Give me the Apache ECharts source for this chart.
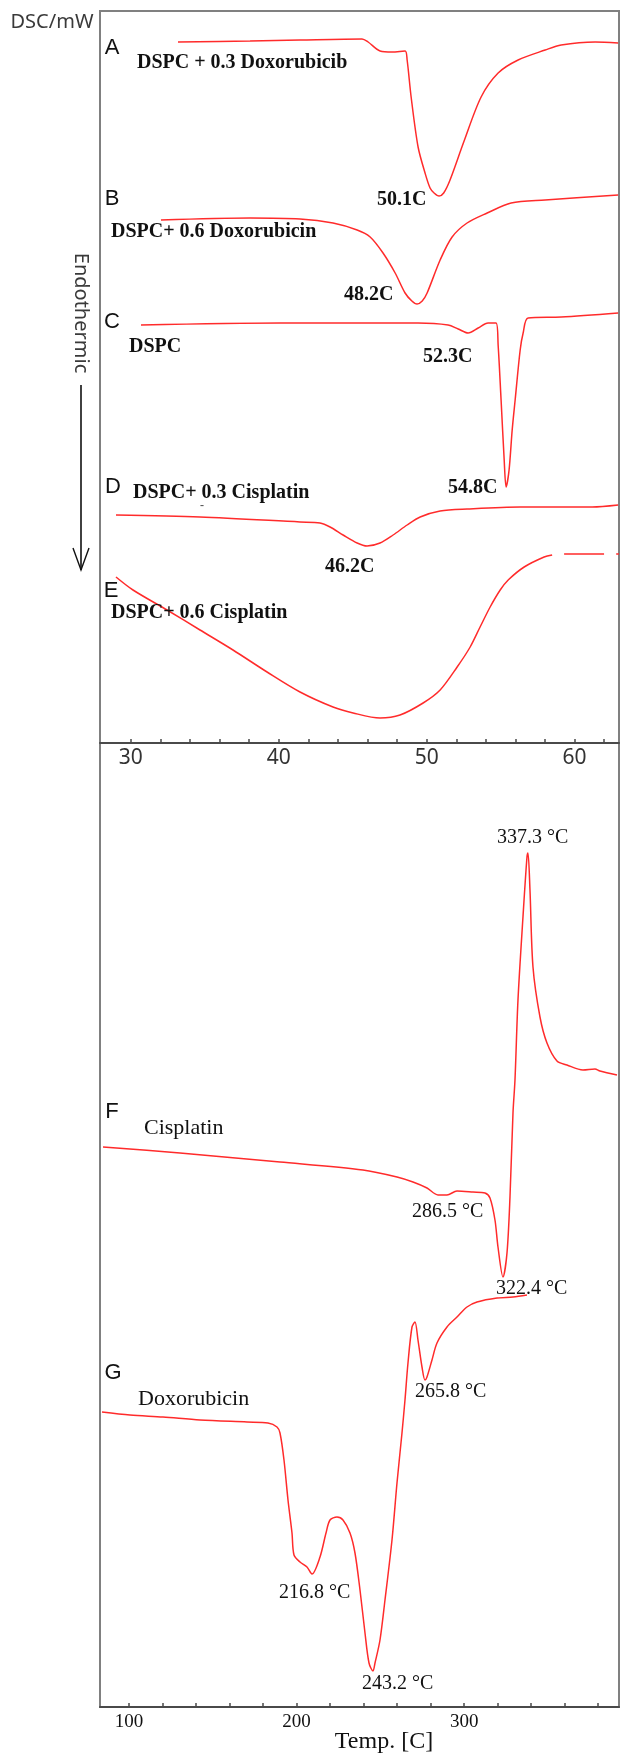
<!DOCTYPE html>
<html>
<head>
<meta charset="utf-8">
<script src="https://cdn.jsdelivr.net/npm/echarts@6/dist/echarts.min.js"></script>
<style>
html,body{margin:0;padding:0;background:#fff;}
#chart{width:628px;height:1762px;}
</style>
</head>
<body>
<div id="chart"></div>
<script>
// ---- Data (temperature °C, DSC signal in arbitrary units) ----
const topTicks = [30, 40, 50, 60];
const topMinorTicks = [30,32,34,36,38,40,42,44,46,48,50,52,54,56,58,60,62];
const bottomTicks = [100, 200, 300];
const bottomMinorTicks = [100,120,140,160,180,200,220,240,260,280,300,320,340,360,380];

// A: DSPC + 0.3 Doxorubicin
const curveA = [[33.19,70.1],[38.06,70.2],[41.44,70.3],[45.63,70.4],[46.04,70.1],[46.85,69.2],[47.66,69.1],[48.54,69.2],[48.68,68.3],[48.95,64.6],[49.42,59.6],[49.89,57.0],[50.23,55.5],[50.5,55.0],[50.84,54.7],[51.15,55.0],[51.58,56.3],[52.53,60.2],[53.68,64.6],[54.83,67.0],[56.18,68.3],[58.01,69.3],[59.09,69.8],[61.39,70.1],[62.94,70.0]];
// B: DSPC + 0.6 Doxorubicin
const curveB = [[32.04,52.3],[38.06,52.5],[41.44,52.4],[43.67,52.0],[45.30,51.3],[46.18,50.6],[47.05,49.0],[47.87,47.0],[48.54,45.0],[49.0,44.2],[49.35,43.9],[49.7,44.2],[50.03,45.0],[50.91,48.3],[51.72,50.6],[52.73,52.0],[54.09,53.0],[55.71,54.0],[58.01,54.3],[62.94,54.8]];
// C: DSPC
const curveC = [[30.69,41.8],[40.09,42.0],[49.42,42.0],[51.45,41.8],[52.13,41.4],[52.80,41.0],[53.48,41.5],[54.15,42.0],[54.69,42.0],[54.83,39.8],[55.03,34.3],[55.24,28.3],[55.37,25.6],[55.57,27.3],[55.78,31.3],[55.98,34.3],[56.32,39.3],[56.52,41.0],[56.86,42.5],[59.09,42.6],[62.94,43.0]];
// D: DSPC + 0.3 Cisplatin
const curveD = [[29.00,22.8],[34.68,22.6],[41.44,22.1],[42.79,22.0],[43.47,21.6],[44.35,20.8],[45.30,20.0],[45.97,19.7],[46.85,20.0],[47.73,20.8],[48.68,21.8],[49.56,22.6],[50.91,23.2],[52.73,23.4],[56.32,23.6],[61.19,23.6],[62.94,23.8]];
// E: DSPC + 0.6 Cisplatin
const curveE = [[29.00,16.6],[30.15,15.3],[32.45,13.3],[34.68,11.3],[36.91,9.3],[39.21,7.1],[41.44,5.1],[43.67,3.6],[45.03,3.0],[46.85,2.5],[48.20,2.8],[49.76,4.0],[50.91,5.3],[52.06,7.6],[52.94,9.6],[53.61,11.6],[54.29,13.6],[54.97,15.3],[55.51,16.3],[56.59,17.6],[57.94,18.6],[58.48,18.8],[58.9,null],[59.29,18.9],[61.99,18.9],[62.4,null],[62.81,18.9],[63.0,18.9]];
// F: Cisplatin
const curveF = [[84.49,56.0],[130.44,55.4],[190.10,54.5],[239.63,53.7],[259.92,53.0],[269.47,52.5],[277.82,51.9],[284.38,51.2],[289.76,51.2],[295.72,51.6],[305.27,51.5],[312.43,51.4],[315.41,50.9],[318.39,48.7],[320.19,46.0],[323.17,43.0],[325.56,45.4],[327.35,51.0],[329.14,59.4],[330.33,62.7],[332.12,70.7],[335.10,79.0],[337.49,85.0],[338.09,85.4],[339.28,81.7],[341.07,74.0],[345.25,69.0],[349.42,66.4],[355.39,64.6],[361.35,64.2],[370.90,63.7],[378.06,63.8],[381.05,63.6],[391.19,63.2]];
// G: Doxorubicin
const curveG = [[83.89,29.5],[100.60,29.2],[120.29,29.0],[142.37,28.7],[170.41,28.5],[182.95,28.4],[188.32,28.0],[190.11,27.4],[192.49,24.7],[194.88,20.7],[197.27,17.4],[198.46,15.2],[202.04,14.5],[206.22,14.0],[209.20,13.3],[213.98,15.0],[217.56,17.4],[219.95,18.7],[224.12,19.0],[227.70,18.7],[231.88,17.4],[234.86,15.4],[237.85,11.7],[240.83,7.4],[243.22,4.4],[245.60,3.6],[246.80,4.4],[249.78,6.7],[252.76,10.7],[256.94,16.7],[259.92,22.4],[262.90,27.4],[264.69,30.7],[266.48,34.4],[268.87,38.0],[270.66,38.5],[272.45,36.7],[274.84,34.0],[276.63,32.7],[277.82,33.0],[280.80,34.7],[283.79,36.4],[289.76,38.0],[295.72,39.0],[301.69,40.0],[307.66,40.5],[319.59,40.9],[329.14,41.0],[337.49,41.2]];

const topCurves = [curveA, curveB, curveC, curveD, curveE];
const bottomCurves = [curveF, curveG];

// ---- Layout / style ----
const RED = '#ff2b2b';
const SERIF = '"Liberation Serif", "Times New Roman", serif';
const SANS = '"Liberation Sans", Arial, sans-serif';
const UI = '"Noto Sans", "Open Sans", sans-serif';

function txt(text, x, y, font, opts) {
  opts = opts || {};
  return {
    type: 'text', x: x, y: y, rotation: opts.rotation || 0, silent: true, z: 10,
    style: {
      text: text, font: font, fill: opts.fill || '#111',
      align: opts.align || 'left', verticalAlign: 'middle',
      textAlign: opts.align || 'left', textVerticalAlign: 'middle'
    }
  };
}

const boldLbl = 'bold 20px ' + SERIF;
const regLbl = '20px ' + SERIF;
const letterFont = '22px ' + SANS;

const graphics = [
  txt('DSC/mW', 52, 22, '20px ' + UI, {align: 'center', fill: '#3a3a3a'}),
  txt('Endothermic', 81, 313, '20px ' + UI, {align: 'center', fill: '#3a3a3a', rotation: -Math.PI / 2}),
  { type: 'polyline', silent: true, shape: { points: [[81, 385], [81, 570]] }, style: { stroke: '#111', lineWidth: 1.6, fill: null } },
  { type: 'polyline', silent: true, shape: { points: [[73, 548], [81, 570], [89, 548]] }, style: { stroke: '#111', lineWidth: 1.4, fill: null } },
  txt('A', 112, 48, letterFont, {align: 'center'}),
  txt('B', 112, 199, letterFont, {align: 'center'}),
  txt('C', 112, 322, letterFont, {align: 'center'}),
  txt('D', 113, 487, letterFont, {align: 'center'}),
  txt('E', 111, 591, letterFont, {align: 'center'}),
  txt('F', 112, 1112, letterFont, {align: 'center'}),
  txt('G', 113, 1373, letterFont, {align: 'center'}),
  txt('DSPC + 0.3 Doxorubicib', 137, 63, boldLbl),
  txt('50.1C', 377, 200, boldLbl),
  txt('DSPC+ 0.6 Doxorubicin', 111, 232, boldLbl),
  txt('48.2C', 344, 295, boldLbl),
  txt('DSPC', 129, 347, boldLbl),
  txt('52.3C', 423, 357, boldLbl),
  txt('54.8C', 448, 488, boldLbl),
  txt('DSPC+ 0.3 Cisplatin', 133, 493, boldLbl),
  txt('-', 202, 506, 'bold 12px ' + SERIF, {align: 'center', fill: '#555'}),
  txt('46.2C', 325, 567, boldLbl),
  txt('DSPC+ 0.6 Cisplatin', 111, 613, boldLbl),
  txt('337.3 °C', 497, 838, regLbl),
  txt('Cisplatin', 144, 1128, '22px ' + SERIF),
  txt('286.5 °C', 412, 1212, regLbl),
  txt('322.4 °C', 496, 1289, regLbl),
  txt('265.8 °C', 415, 1392, regLbl),
  txt('Doxorubicin', 138, 1399, '22px ' + SERIF),
  txt('216.8 °C', 279, 1593, regLbl),
  txt('243.2 °C', 362, 1684, regLbl),
  txt('Temp. [C]', 384, 1742, '24px ' + SERIF, {align: 'center'})
];

const series = [];
topCurves.forEach(function (c) {
  series.push({ type: 'line', xAxisIndex: 0, yAxisIndex: 0, data: c, showSymbol: false, symbol: 'none', smooth: 0.3,
    lineStyle: { color: RED, width: 1.5 }, connectNulls: false, silent: true });
});
bottomCurves.forEach(function (c) {
  series.push({ type: 'line', xAxisIndex: 1, yAxisIndex: 1, data: c, showSymbol: false, symbol: 'none', smooth: 0.3,
    lineStyle: { color: RED, width: 1.5 }, connectNulls: false, silent: true });
});

const chart = echarts.init(document.getElementById('chart'), null, { renderer: 'canvas' });
chart.setOption({
  animation: false,
  backgroundColor: '#fff',
  grid: [
    { left: 100, right: 9, top: 11, height: 732, show: true, borderColor: '#808080', borderWidth: 2, containLabel: false },
    { left: 100, right: 9, top: 743, bottom: 55, show: true, borderColor: '#808080', borderWidth: 2, containLabel: false }
  ],
  xAxis: [
    { type: 'value', gridIndex: 0, min: 27.92, max: 63.0,
      axisLine: { show: true, onZero: false, lineStyle: { color: '#4a4a4a', width: 2 } },
      axisTick: { show: true, inside: true, length: 4, customValues: topMinorTicks, lineStyle: { color: '#4a4a4a', width: 1.5 } },
      axisLabel: { show: true, customValues: topTicks, margin: 5, color: '#333', fontSize: 21, fontFamily: UI },
      splitLine: { show: false } },
    { type: 'value', gridIndex: 1, min: 82.7, max: 392.4,
      axisLine: { show: true, onZero: false, lineStyle: { color: '#4a4a4a', width: 2 } },
      axisTick: { show: true, inside: true, length: 4, customValues: bottomMinorTicks, lineStyle: { color: '#4a4a4a', width: 1.5 } },
      axisLabel: { show: true, customValues: bottomTicks, margin: 6, color: '#111', fontSize: 19, fontFamily: SERIF },
      splitLine: { show: false } }
  ],
  yAxis: [
    { type: 'value', gridIndex: 0, min: 0, max: 73.2, show: false, splitLine: { show: false } },
    { type: 'value', gridIndex: 1, min: 0, max: 96.4, show: false, splitLine: { show: false } }
  ],
  graphic: graphics,
  series: series
});
</script>
</body>
</html>
